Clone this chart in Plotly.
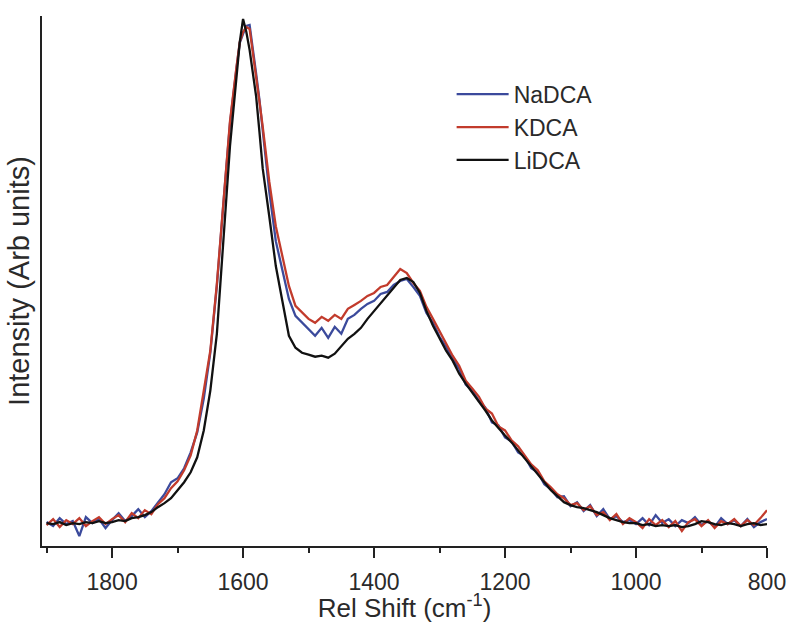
import plotly.graph_objects as go

wavenumber = [1900, 1890, 1880, 1870, 1860, 1850, 1840, 1830, 1820, 1810,
              1800, 1790, 1780, 1770, 1760, 1750, 1740, 1730, 1720, 1710,
              1700, 1690, 1680, 1670, 1660, 1650, 1640, 1630, 1620, 1610,
              1605, 1600, 1595, 1590, 1585, 1580, 1575, 1570,
              1560, 1550, 1540, 1530, 1520, 1510, 1500, 1490, 1480, 1470,
              1460, 1450, 1440, 1430, 1420, 1410, 1400, 1390, 1380, 1370,
              1360, 1350, 1340, 1330, 1320, 1310, 1300, 1290, 1280, 1270,
              1260, 1250, 1240, 1230, 1220, 1210, 1200, 1190, 1180, 1170,
              1160, 1150, 1140, 1130, 1120, 1110, 1100, 1090, 1080, 1070,
              1060, 1050, 1040, 1030, 1020, 1010, 1000, 990, 980, 970,
              960, 950, 940, 930, 920, 910, 900, 890, 880, 870,
              860, 850, 840, 830, 820, 810, 800]

nadca = [24, 20, 28, 22, 25, 10, 29, 23, 27, 18,
         26, 33, 25, 30, 37, 29, 35, 43, 52, 64,
         68, 78, 94, 114, 148, 194, 261, 344, 424, 480,
         505, 514, 522, 523, 501, 474, 448, 418,
         356, 306, 278, 248, 231, 224, 218, 211, 219, 209,
         220, 213, 228, 232, 238, 243, 246, 253, 255, 262,
         266, 268, 260, 251, 234, 224, 210, 200, 188, 178,
         162, 156, 146, 139, 124, 121, 109, 105, 94, 90,
         78, 74, 62, 57, 49, 50, 40, 44, 35, 41,
         30, 37, 27, 30, 24, 26, 22, 28, 21, 31,
         23, 27, 20, 26, 23, 29, 21, 25, 19, 28,
         22, 26, 20, 27, 19, 24, 27]

kdca = [21, 27, 19, 26, 22, 28, 20, 25, 29, 22,
        27, 31, 24, 33, 28, 36, 32, 42, 48, 58,
        65, 76, 91, 116, 156, 196, 263, 346, 426, 481,
        506, 516, 521, 519, 496, 471, 446, 421,
        366, 321, 291, 261, 241, 234, 228, 224, 230, 226,
        232, 228, 238, 242, 246, 251, 254, 260, 262, 270,
        278, 274, 264, 256, 240, 228, 216, 203, 191, 181,
        166, 158, 150, 138, 133, 120, 116, 106, 100, 91,
        82, 76, 65, 59, 52, 48, 41, 43, 36, 40,
        31, 34, 26, 32, 22, 28, 24, 18, 27, 21,
        26, 19, 25, 15, 24, 27, 20, 26, 18, 25,
        22, 27, 20, 26, 21, 28, 36]

lidca = [23, 22, 24, 21, 23, 22, 24, 23, 25, 23,
         24, 26, 25, 28, 29, 31, 34, 39, 43, 48,
         56, 64, 74, 89, 116, 156, 213, 306, 401, 471,
         506, 529, 516, 498, 476, 451, 416, 379,
         331, 281, 246, 211, 199, 194, 192, 190, 191, 189,
         193, 201, 208, 213, 219, 228, 236, 243, 251, 259,
         267, 269, 265, 254, 236, 221, 209, 196, 186, 173,
         163, 154, 146, 136, 126, 118, 111, 104, 96, 88,
         80, 72, 63, 56, 50, 44, 41, 39, 38, 36,
         34, 31, 28, 26, 24, 23, 23, 21, 22, 20,
         21, 20, 21, 19, 20, 22, 25, 24, 22, 21,
         23, 22, 20, 22, 23, 21, 22]

series_names = ["NaDCA", "KDCA", "LiDCA"]
series_values = [nadca, kdca, lidca]
series_colors = ["#3b4a9c", "#c23b2c", "#111111"]

x_ticks = [1800, 1600, 1400, 1200, 1000, 800]

font_family = "Liberation Sans, Arial, sans-serif"

fig = go.Figure()
for name, vals, col in zip(series_names, series_values, series_colors):
    fig.add_trace(go.Scatter(
        x=wavenumber, y=vals, mode="lines", name=name,
        legendgroup=name,
        line=dict(color=col, width=2.3),
    ))

fig.update_layout(
    width=791, height=623,
    margin=dict(l=42, r=24, t=16, b=77),
    paper_bgcolor="white", plot_bgcolor="white",
    font=dict(family=font_family, color="#2a2a2a", size=24),
    showlegend=True,
    legend=dict(
        x=0.565, y=0.893, xanchor="left", yanchor="top",
        bgcolor="rgba(0,0,0,0)", font=dict(size=23, color="#2a2a2a"),
        traceorder="grouped", tracegroupgap=0, itemwidth=52,
    ),
    xaxis=dict(
        range=[1907, 800], showgrid=False, zeroline=False,
        automargin=False,
        showline=True, linecolor="#222222", linewidth=2,
        ticks="outside", tickcolor="#222222", tickwidth=2, ticklen=10,
        tickvals=x_ticks, ticktext=[str(t) for t in x_ticks],
        tickfont=dict(size=23, color="#2a2a2a"),
        ticklabelstandoff=4,
        minor=dict(dtick=100, tick0=800, ticks="outside", ticklen=5,
                   tickcolor="#222222", tickwidth=2, showgrid=False),
        title=dict(text="Rel Shift (cm<sup>-1</sup>)", standoff=3,
                   font=dict(size=26, color="#2a2a2a")),
    ),
    yaxis=dict(
        range=[0, 532], showgrid=False, zeroline=False,
        showline=True, linecolor="#222222", linewidth=2,
        ticks="", showticklabels=False,
        title=dict(text="Intensity (Arb units)", standoff=2,
                   font=dict(size=29, color="#2a2a2a")),
    ),
)

fig.write_html("out.html")
